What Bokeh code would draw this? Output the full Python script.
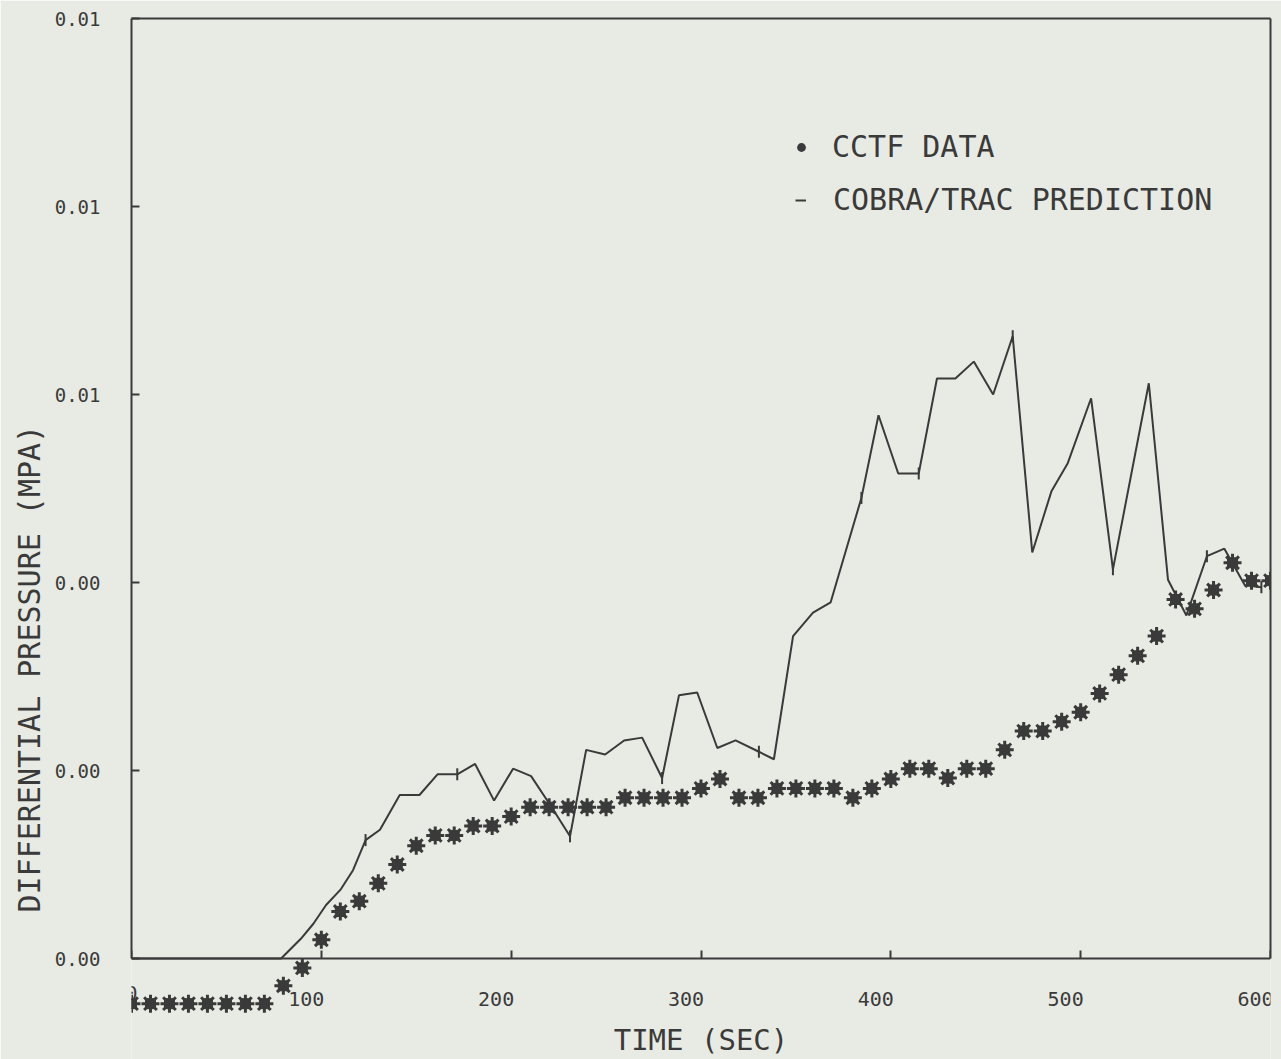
import numpy as np
from bokeh.plotting import figure
from bokeh.models import (Range1d, LinearAxis, FixedTicker, PrintfTickFormatter,
                          Title, Legend, LegendItem, ColumnDataSource)
from bokeh.core.properties import value
from bokeh.embed import file_html
from bokeh.resources import INLINE

# ---------------- data ----------------
cctf_time = [0, 10, 20, 30, 40, 50, 60, 70, 80, 90, 100, 110, 120, 130, 140, 150, 160, 170,
             180, 190, 200, 210, 220, 230, 240, 250, 260, 270, 280, 290, 300, 310, 320, 330,
             340, 350, 360, 370, 380, 390, 400, 410, 420, 430, 440, 450, 460, 470, 480, 490,
             500, 510, 520, 530, 540, 550, 560, 570, 580, 590, 600]
cctf_dp = [-0.00048, -0.00048, -0.00048, -0.00048, -0.00048, -0.00048, -0.00048, -0.00048,
           -0.00029, -0.00010, 0.00020, 0.00050, 0.00061, 0.00080, 0.00100, 0.00120, 0.00131,
           0.00131, 0.00141, 0.00141, 0.00151, 0.00161, 0.00161, 0.00161, 0.00161, 0.00161,
           0.00171, 0.00171, 0.00171, 0.00171, 0.00181, 0.00191, 0.00171, 0.00171, 0.00181,
           0.00181, 0.00181, 0.00181, 0.00171, 0.00181, 0.00191, 0.00202, 0.00202, 0.00192,
           0.00202, 0.00202, 0.00222, 0.00242, 0.00242, 0.00252, 0.00262, 0.00282, 0.00302,
           0.00322, 0.00343, 0.00382, 0.00372, 0.00392, 0.00421, 0.00402, 0.00402]

pred_time = [0, 78.8, 89.2, 95.8, 102.5, 110, 116.7, 123.3, 130.9, 141.3, 151.7, 161.2, 171.6,
             181, 191, 201, 210.5, 221, 231, 239.5, 249.5, 259.5, 269, 279.5, 288.4, 298,
             308.6, 318.2, 330.5, 338.4, 348.5, 359, 368.3, 384.5, 393.5, 403.9, 414.7, 424.3,
             434, 443.7, 453.9, 464.2, 474.5, 484.6, 493.2, 505.5, 517, 535.9, 546, 555.7,
             566.5, 575.7, 586.5, 595.2]
pred_dp = [0, 0, 0.00021, 0.00037, 0.00057, 0.00073, 0.00094, 0.00126, 0.00137, 0.00174,
           0.00174, 0.00196, 0.00196, 0.00207, 0.00168, 0.00202, 0.00194, 0.00162, 0.00130,
           0.00222, 0.00217, 0.00232, 0.00235, 0.00192, 0.00280, 0.00283, 0.00224, 0.00232,
           0.00220, 0.00212, 0.00343, 0.00368, 0.00379, 0.00490, 0.00578, 0.00516, 0.00516,
           0.00617, 0.00617, 0.00635, 0.00600, 0.00662, 0.00432, 0.00497, 0.00527, 0.00596,
           0.00414, 0.00612, 0.00403, 0.00365, 0.00428, 0.00436, 0.00397, 0.00395]
# vertices of the prediction curve that carry the plotter's small tick symbol
pred_mark_idx = [7, 12, 18, 23, 28, 33, 36, 41, 46, 50, 53]

x_ticks = [0, 100, 200, 300, 400, 500, 600]
x_tick_labels = ["0", "100", "200", "300", "400", "500", "600"]
y_ticks = [0, 0.002, 0.004, 0.006, 0.008, 0.01]

x_title = "TIME (SEC)"
y_title = "DIFFERENTIAL PRESSURE (MPA)"
legend_labels = ["CCTF DATA", "COBRA/TRAC PREDICTION"]

# ---------------- style ----------------
PAPER = "#e8ebe4"
INK = "#3a3a3a"
FONT = "DejaVu Sans Mono"

p = figure(width=1281, height=1059, x_range=Range1d(0, 600), y_range=Range1d(-0.001074, 0.01),
           output_backend="svg", toolbar_location=None,
           min_border_left=131, min_border_right=11, min_border_top=18, min_border_bottom=0,
           background_fill_color=PAPER, border_fill_color=PAPER, outline_line_color=None)
p.grid.visible = False

# bottom axis, drawn at y = 0.  The "0" label at the frame corner is drawn by the axis
# (so it is not clipped by the frame); the other labels are drawn right-aligned below.
xa = p.xaxis[0]
xa.fixed_location = 0
xa.ticker = FixedTicker(ticks=x_ticks)
xa.major_label_overrides = {t: (lab if t == x_ticks[0] else "")
                            for t, lab in zip(x_ticks, x_tick_labels)}
xa.major_label_standoff = 27
xa.major_label_text_font = FONT
xa.major_label_text_font_size = "20px"
xa.major_label_text_color = INK
xa.major_tick_in = 8
xa.major_tick_out = 0
xa.minor_tick_in = 0
xa.minor_tick_out = 0
xa.axis_line_width = 2
xa.axis_line_color = INK
xa.major_tick_line_width = 2
xa.major_tick_line_color = INK
xa.axis_label = x_title
xa.axis_label_text_font = FONT
xa.axis_label_text_font_size = "29px"
xa.axis_label_text_font_style = "normal"
xa.axis_label_text_color = INK
xa.axis_label_standoff = 20

# left axis
ya = p.yaxis[0]
ya.bounds = (0, 0.01)
ya.ticker = FixedTicker(ticks=y_ticks)
ya.formatter = PrintfTickFormatter(format="%.2f")
ya.major_tick_in = 8
ya.major_tick_out = 0
ya.minor_tick_in = 0
ya.minor_tick_out = 0
ya.axis_line_width = 2
ya.axis_line_color = INK
ya.major_tick_line_width = 2
ya.major_tick_line_color = INK
ya.major_label_standoff = 31
ya.major_label_text_font = FONT
ya.major_label_text_font_size = "19px"
ya.major_label_text_color = INK

# frame borders (top and right)
top_ax = LinearAxis(ticker=FixedTicker(ticks=[]), major_tick_in=0, major_tick_out=0,
                    minor_tick_in=0, minor_tick_out=0, axis_line_width=2, axis_line_color=INK)
p.add_layout(top_ax, "above")
right_ax = LinearAxis(ticker=FixedTicker(ticks=[]), bounds=(0, 0.01), major_tick_in=0,
                      major_tick_out=0, minor_tick_in=0, minor_tick_out=0,
                      axis_line_width=2, axis_line_color=INK)
p.add_layout(right_ax, "right")

# y-axis title (starts 147 px above the bottom of the frame, reading upwards)
p.add_layout(Title(text=y_title, align="left", offset=147, text_font=FONT,
                   text_font_size="30px", text_font_style="normal", text_color=INK,
                   standoff=10), "left")

# x tick labels 100..600 (right-aligned at the tick, as the plotter drew them)
p.text(x=x_ticks[1:], y=[0] * (len(x_ticks) - 1), text=x_tick_labels[1:], x_offset=3,
       y_offset=40, text_align="right", text_baseline="middle", text_font=value(FONT),
       text_font_size="20px", text_color=INK)

# prediction curve
pred_src = ColumnDataSource(dict(t=pred_time, dp=pred_dp))
line_r = p.line("t", "dp", source=pred_src, line_color=INK, line_width=2)
p.scatter(x=[pred_time[i] for i in pred_mark_idx], y=[pred_dp[i] for i in pred_mark_idx],
          marker="dash", angle=np.pi / 2, size=12, line_color=INK, line_width=2)

# CCTF data (heavy plotter asterisks)
cctf_src = ColumnDataSource(dict(t=cctf_time, dp=cctf_dp))
p.scatter("t", "dp", source=cctf_src, marker="square", size=10, fill_color=INK,
          line_color=INK, line_width=1)
p.scatter("t", "dp", source=cctf_src, marker="asterisk", size=18, line_color=INK,
          line_width=3)
dot_r = p.scatter("t", "dp", source=cctf_src, marker="circle", size=0, fill_color=INK,
                  line_alpha=0)

# legend (two single-entry legends to mimic the plotter's "•" and "-")
leg1 = Legend(items=[LegendItem(label=legend_labels[0], renderers=[dot_r])],
              location=(659, 895), glyph_width=22, glyph_height=22, label_standoff=20,
              padding=0, margin=0, spacing=0, border_line_alpha=0, background_fill_alpha=0,
              label_text_font=FONT, label_text_font_size="30px", label_text_color=INK)
leg2 = Legend(items=[LegendItem(label=legend_labels[1], renderers=[line_r])],
              location=(664, 842), glyph_width=11, glyph_height=22, label_standoff=27,
              padding=0, margin=0, spacing=0, border_line_alpha=0, background_fill_alpha=0,
              label_text_font=FONT, label_text_font_size="30px", label_text_color=INK)
p.add_layout(leg1)
p.add_layout(leg2)

open("out.html", "w").write(file_html(p, INLINE))
